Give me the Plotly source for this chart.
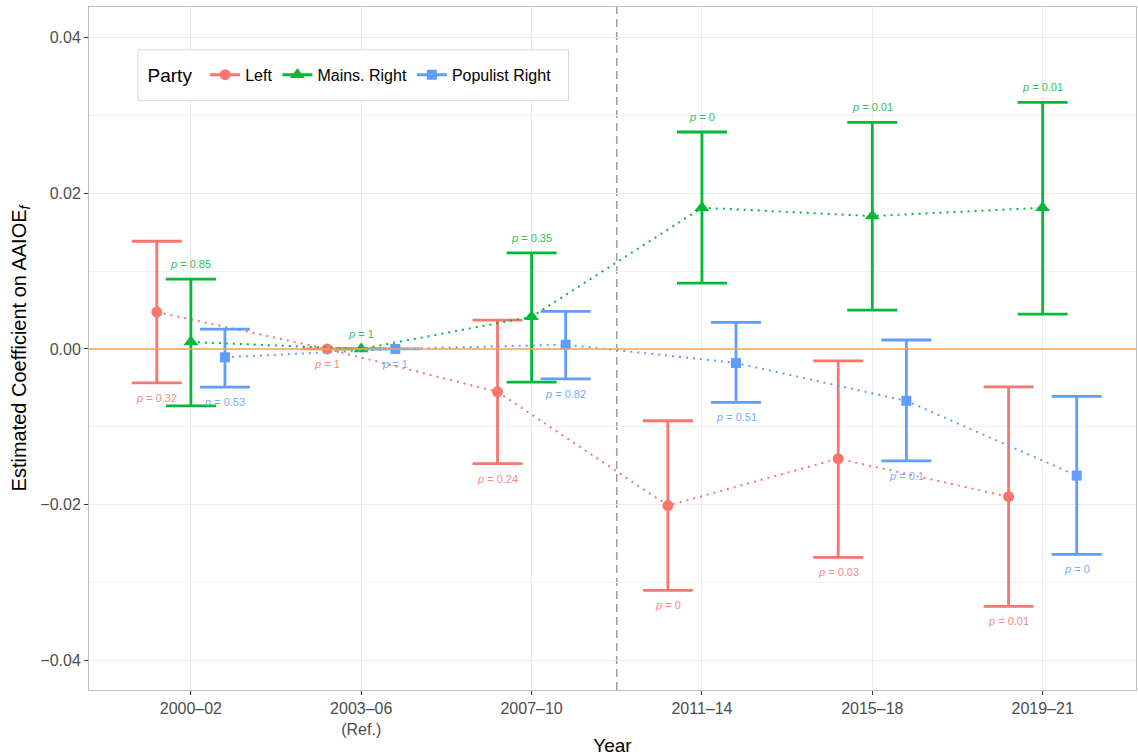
import plotly.graph_objects as go

# Period categories (x axis) and tick labels
periods = ["2000-02", "2003-06", "2007-10", "2011-14", "2015-18", "2019-21"]
tick_labels = ["2000\u201302", "2003\u201306<br>(Ref.)", "2007\u201310", "2011\u201314", "2015\u201318", "2019\u201321"]
y_ticks = [-0.04, -0.02, 0.0, 0.02, 0.04]
y_tick_labels = ["\u22120.04", "\u22120.02", "0.00", "0.02", "0.04"]

# Estimated coefficients with 95% CI bounds and p-values
left_est = [0.00474, 0.0, -0.00551, -0.02013, -0.01410, -0.01900]
left_lo = [-0.00436, 0.0, -0.01474, -0.03103, -0.02680, -0.03310]
left_hi = [0.01385, 0.0, 0.00372, -0.00923, -0.00154, -0.00487]
left_p = ["0.32", "1", "0.24", "0", "0.03", "0.01"]

mains_est = [0.00090, 0.0, 0.00414, 0.01816, 0.01709, 0.01816]
mains_lo = [-0.00731, 0.0, -0.00427, 0.00846, 0.00500, 0.00449]
mains_hi = [0.00897, 0.0, 0.01235, 0.02790, 0.02914, 0.03170]
mains_p = ["0.85", "1", "0.35", "0", "0.01", "0.01"]

pop_est = [-0.00107, 0.0, 0.00055, -0.00180, -0.00667, -0.01628]
pop_lo = [-0.00491, 0.0, -0.00385, -0.00688, -0.01440, -0.02641]
pop_hi = [0.00256, 0.0, 0.00483, 0.00342, 0.00115, -0.00610]
pop_p = ["0.53", "1", "0.82", "0.51", "0.1", "0"]

FONT = "Liberation Sans, Arial, Helvetica, sans-serif"

series = [
    # name, est, lo, hi, p, color, symbol, size, dodge, label above?
    ("Left", left_est, left_lo, left_hi, left_p, "#F8766D", "circle", 11, -0.2, False),
    ("Mains. Right", mains_est, mains_lo, mains_hi, mains_p, "#00BA38", "triangle-up", 13, 0.0, True),
    ("Populist Right", pop_est, pop_lo, pop_hi, pop_p, "#619CFF", "square", 10, 0.2, False),
]

fig = go.Figure()
annotations = []

for name, est, lo, hi, pv, color, symbol, msize, dodge, above in series:
    xs = [i + dodge for i in range(len(periods))]
    # dotted connecting line
    fig.add_trace(go.Scatter(
        x=xs, y=est, mode="lines",
        line=dict(color=color, width=2, dash="2px,5px"),
        showlegend=False, hoverinfo="skip",
    ))
    # point estimates with confidence intervals
    fig.add_trace(go.Scatter(
        x=xs, y=est, mode="markers",
        marker=dict(color=color, symbol=symbol, size=msize),
        error_y=dict(
            type="data", symmetric=False,
            array=[h - e for h, e in zip(hi, est)],
            arrayminus=[e - l for e, l in zip(est, lo)],
            color=color, thickness=2.8, width=25,
        ),
        showlegend=False, name=name,
    ))
    # legend entry
    fig.add_trace(go.Scatter(
        x=[None], y=[None], mode="lines+markers", name=name,
        line=dict(color=color, width=3),
        marker=dict(color=color, symbol=symbol, size=msize),
    ))
    # p-value labels
    for x, l, h, p in zip(xs, lo, hi, pv):
        annotations.append(dict(
            x=x, y=h if above else l, xref="x", yref="y",
            text=f"<i>p</i> = {p}", showarrow=False,
            yshift=15 if above else -15,
            font=dict(family=FONT, size=11, color=color),
            opacity=0.85,
        ))

# reference lines: zero effect and the 2011 break
fig.add_hline(y=0, line=dict(color="#F4A652", width=1.6), layer="above")
fig.add_vline(x=2.5, line=dict(color="#A0A0A0", width=1.6, dash="8px,5px"), layer="below")

# legend frame
fig.add_shape(type="rect", xref="paper", yref="paper",
              x0=0.0468, x1=0.458, y0=0.8628, y1=0.9372,
              fillcolor="white", line=dict(color="#D9D9D9", width=1), layer="above")

fig.update_layout(
    width=1138, height=756,
    margin=dict(l=89, r=1, t=7, b=64),
    paper_bgcolor="white", plot_bgcolor="white",
    font=dict(family=FONT, color="#4D4D4D"),
    annotations=annotations,
    legend=dict(
        orientation="h", x=0.054, y=0.9, xanchor="left", yanchor="middle",
        bgcolor="rgba(0,0,0,0)", borderwidth=0,
        font=dict(family=FONT, size=16, color="black"),
        title=dict(text="Party ", font=dict(family=FONT, size=19, color="black"), side="left"),
        itemwidth=30,
    ),
    xaxis=dict(
        range=[-0.598, 5.548], tickvals=list(range(len(periods))), ticktext=tick_labels,
        showgrid=True, gridcolor="#EBEBEB", gridwidth=1.2, zeroline=False,
        ticks="outside", ticklen=4, tickcolor="#333333",
        tickfont=dict(family=FONT, size=16, color="#4D4D4D"),
        showline=True, linecolor="#BDBDBD", mirror=True, linewidth=1,
        title=dict(text="Year", font=dict(family=FONT, size=19, color="black"), standoff=4),
    ),
    yaxis=dict(
        range=[-0.04385, 0.04397], tickvals=y_ticks, ticktext=y_tick_labels,
        showgrid=True, gridcolor="#EBEBEB", gridwidth=1.2, zeroline=False,
        minor=dict(tickvals=[-0.03, -0.01, 0.01, 0.03], showgrid=True, gridcolor="#F2F2F2", gridwidth=1),
        ticks="outside", ticklen=4, tickcolor="#333333",
        tickfont=dict(family=FONT, size=16, color="#4D4D4D"),
        showline=True, linecolor="#BDBDBD", mirror=True, linewidth=1,
        title=dict(text="Estimated Coefficient on AAIOE<sub><i>f</i></sub>",
                   font=dict(family=FONT, size=20, color="black"), standoff=8),
    ),
)

fig.write_html("out.html")
